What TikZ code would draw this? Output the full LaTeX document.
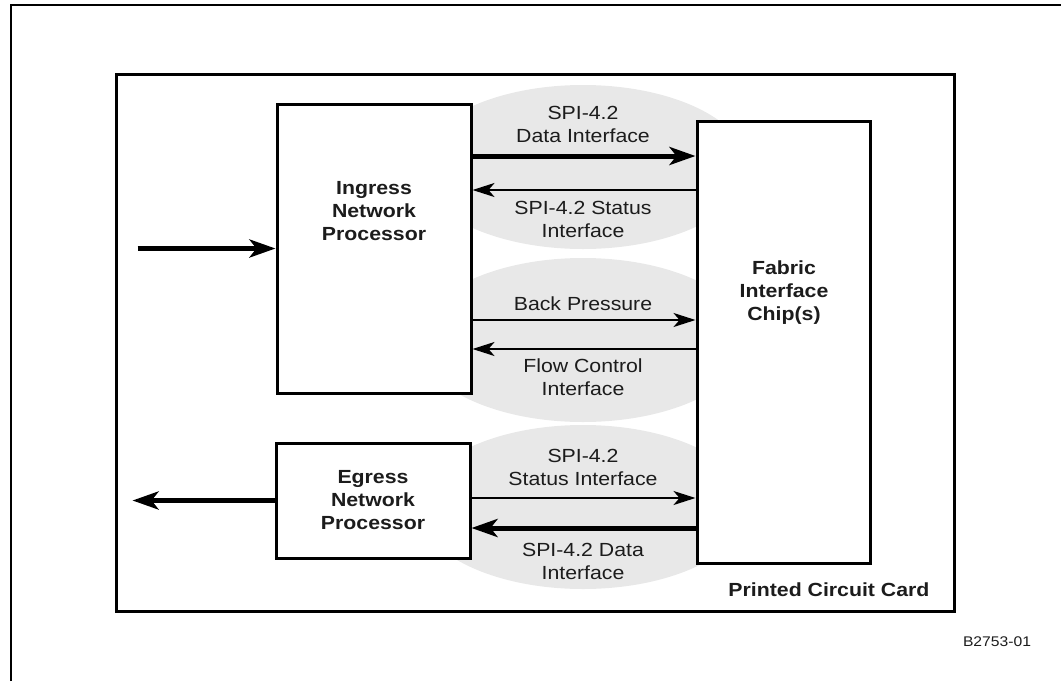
\documentclass[tikz,border=0pt]{standalone}
\usepackage{fontspec}
\setmainfont[FakeStretch=1.12]{Liberation Sans}
\usepackage{tikz}
\usetikzlibrary{shapes.geometric, arrows.meta, positioning}
\definecolor{ShadeGray}{HTML}{E8E8E8}
\definecolor{InkBlack}{HTML}{1C1C1C}
\tikzset{
    cardbox/.style={draw=black, line width=3pt, minimum width=838pt, minimum height=537pt},
    chipbox/.style={draw=black, line width=3pt, fill=white},
    cloud/.style={ellipse, fill=ShadeGray, minimum width=330pt, minimum height=164pt},
    lbl/.style={align=center, text=InkBlack, font=\fontsize{19}{23}\selectfont},
    boldlbl/.style={lbl, font=\fontsize{19}{23}\selectfont\bfseries},
    arr/.style={-{Stealth[length=22pt, width=14pt, inset=6pt]}, line width=2pt},
    fatarr/.style={-{Stealth[length=26pt, width=18pt, inset=7pt]}, line width=5pt}
}

\begin{document}
\begin{tikzpicture}[x=1pt, y=-1pt]
        \useasboundingbox (0,0) rectangle (1061,681);
        \draw[line width=2pt] (10.5,681) -- (10.5,5) -- (1061,5);

        \node[cardbox] (card) at (535,342.5) {};
        \node[boldlbl, anchor=east] (cardlbl) at (933,590) {Printed Circuit Card};

        % shaded interface groups
        \node[cloud] (spiin) at (583,167) {};
        \node[cloud] (flowctl) at (583,340) {};
        \node[cloud] (spiout) at (583,507) {};

        \node[chipbox, minimum width=194pt, minimum height=289pt] (ingress) at (374,248.5) {};
        \node[boldlbl] (ingresslbl) at (374,211) {Ingress\\Network\\Processor};

        \node[chipbox, minimum width=173pt, minimum height=442pt] (fabric) at (783.5,342) {};
        \node[boldlbl] (fabriclbl) at (784,293) {Fabric\\Interface\\Chip(s)};

        \node[chipbox, minimum width=194pt, minimum height=115pt] (egress) at (373,500.5) {};
        \node[boldlbl] (egresslbl) at (373,500) {Egress\\Network\\Processor};

        \coordinate[left=138pt of ingress.west] (netin);
        \draw[fatarr] (netin) -- (ingress.west);
        \coordinate[left=142pt of egress.west] (netout);
        \draw[fatarr] (egress.west) -- (netout);

        \node[lbl] (datain) at (583,124) {SPI-4.2\\Data Interface};
        \draw[fatarr] (ingress.east |- 0,156) -- (fabric.west |- 0,156);
        \draw[arr] (fabric.west |- 0,190) -- (ingress.east |- 0,190);
        \node[lbl] (statusin) at (583,219) {SPI-4.2 Status\\Interface};

        \node[lbl] (backp) at (583,303.5) {Back Pressure};
        \draw[arr] (ingress.east |- 0,320) -- (fabric.west |- 0,320);
        \draw[arr] (fabric.west |- 0,349) -- (ingress.east |- 0,349);
        \node[lbl] (flowlbl) at (583,377.5) {Flow Control\\Interface};

        \node[lbl] (statusout) at (583,467.5) {SPI-4.2\\Status Interface};
        \draw[arr] (egress.east |- 0,498) -- (fabric.west |- 0,498);
        \draw[fatarr] (fabric.west |- 0,528) -- (egress.east |- 0,528);
        \node[lbl] (dataout) at (583,561) {SPI-4.2 Data\\Interface};

        \node[lbl, font=\fontsize{14}{17}\selectfont] (figid) at (997,642) {B2753-01};
\end{tikzpicture}
\end{document}
